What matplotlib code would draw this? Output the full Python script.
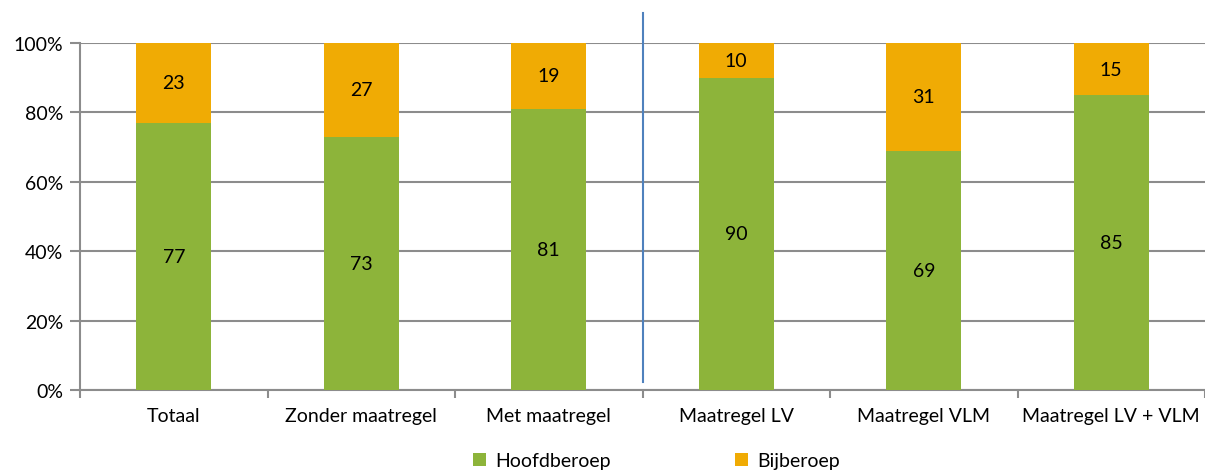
import matplotlib.pyplot as plt
import numpy as np

# Data (percentages)
categories = ["Totaal", "Zonder maatregel", "Met maatregel",
              "Maatregel LV", "Maatregel VLM", "Maatregel LV + VLM"]
hoofdberoep = [77, 73, 81, 90, 69, 85]
bijberoep = [23, 27, 19, 10, 31, 15]

green = "#8DB43A"
orange = "#F0AB04"
grid_col = "#8C8C8C"

plt.rcParams["font.family"] = ["Lato", "DejaVu Sans"]
fs = 14

fig = plt.figure(figsize=(12.05, 4.77), dpi=100)
ax = fig.add_axes([80 / 1205, (477 - 391) / 477, 1125 / 1205, 347 / 477])

x = np.arange(len(categories))
h = np.array(hoofdberoep) / 100
b = np.array(bijberoep) / 100
w = 0.4

ax.bar(x, h, width=w, color=green, label="Hoofdberoep", zorder=3)
ax.bar(x, b, width=w, bottom=h, color=orange, label="Bijberoep", zorder=3)

for i in range(len(x)):
    ax.text(x[i], h[i] / 2, str(hoofdberoep[i]), ha="center", va="center",
            fontsize=fs, zorder=4)
    ax.text(x[i], h[i] + b[i] / 2, str(bijberoep[i]), ha="center", va="center",
            fontsize=fs, zorder=4)

ax.set_xlim(-0.5, len(x) - 0.5)
ax.set_ylim(0, 1)
ax.set_yticks(np.arange(0, 1.01, 0.2))
ax.set_yticklabels([f"{int(v * 100)}%" for v in np.arange(0, 1.01, 0.2)], fontsize=fs)
ax.yaxis.grid(True, color=grid_col, linewidth=1.5, zorder=0)

# category labels centred, tick marks at category boundaries
ax.set_xticks(x)
ax.set_xticklabels(categories, fontsize=fs)
ax.tick_params(axis="x", length=0, pad=12)
ax.set_xticks(np.arange(-0.5, len(x), 1), minor=True)
ax.tick_params(axis="x", which="minor", length=6, color=grid_col, width=1.5)
ax.tick_params(axis="y", length=7, color=grid_col, width=1.5, pad=5)

for s in ["top", "right"]:
    ax.spines[s].set_visible(False)
for s in ["left", "bottom"]:
    ax.spines[s].set_color(grid_col)
    ax.spines[s].set_linewidth(1.5)

# separator line
ax.plot([2.5, 2.5], [0.023, 1.086], color="#4F81BD", linewidth=1.5,
        clip_on=False, zorder=5)

fig.legend(loc="center", bbox_to_anchor=(0.545, 0.032), ncol=2, frameon=False,
           fontsize=fs, handlelength=0.65, handleheight=0.65, handletextpad=0.5,
           columnspacing=6.4)

fig.savefig("out.png", dpi=100)
